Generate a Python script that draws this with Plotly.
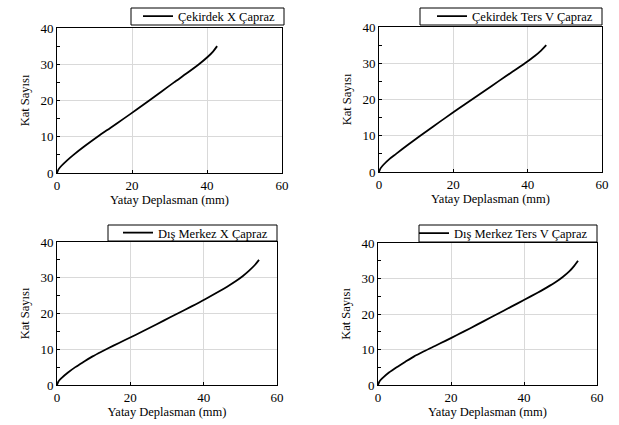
import plotly.graph_objects as go

W, H = 619, 425

names = ["Çekirdek X Çapraz", "Çekirdek Ters V Çapraz",
         "Dış Merkez X Çapraz", "Dış Merkez Ters V Çapraz"]

floors_c = [0, 1, 2, 3.5, 5, 7.5, 10, 12.5, 15, 17.5, 20, 22.5, 25, 27.5, 30, 32, 33.5, 35]
disp_cekirdek_x = [0, 0.4, 1.2, 2.7, 4.4, 7.5, 10.8, 14.3, 17.8, 21.25, 24.6, 27.9, 31.2, 34.6, 37.85, 40.15, 41.6, 42.7]
disp_cekirdek_v = [0, 0.4, 1.2, 2.7, 4.6, 7.8, 11.1, 14.5, 17.95, 21.45, 25.0, 28.55, 32.1, 35.7, 39.25, 41.9, 43.6, 45.0]

floors_d = [0, 1, 2, 3.5, 5, 6.5, 8, 9.5, 11, 12.5, 14, 16, 18, 20, 22, 24, 26, 27.5, 29, 30.5, 32, 33.5, 35]
disp_dis_x = [0, 0.4, 1.3, 3.0, 5.0, 7.3, 9.7, 12.5, 15.4, 18.4, 21.4, 25.3, 29.1, 32.9, 36.7, 40.4, 43.9, 46.4, 48.7, 50.7, 52.4, 53.9, 55.1]
disp_dis_v = [0, 0.4, 1.3, 3.0, 5.1, 7.4, 9.8, 12.6, 15.6, 18.6, 21.5, 25.3, 29.0, 32.7, 36.4, 40.1, 43.7, 46.3, 48.7, 50.7, 52.4, 53.7, 54.8]

series = [(disp_cekirdek_x, floors_c), (disp_cekirdek_v, floors_c),
          (disp_dis_x, floors_d), (disp_dis_v, floors_d)]

# plot areas in pixels: left, right, top, bottom
areas = [(57, 282, 28, 173), (379, 602, 27, 172), (57, 277, 242, 385), (378, 597, 243, 385)]
# legend boxes in pixels: left, right, top, bottom
boxes = [(131, 284, 8, 25), (420, 602, 8, 25), (108, 277, 225, 241), (419, 597, 225, 242)]

FONT = "Liberation Serif"

fig = go.Figure()
shapes = []
layout = dict(width=W, height=H, margin=dict(l=0, r=0, t=0, b=0, autoexpand=False),
              paper_bgcolor="white", plot_bgcolor="white",
              font=dict(family=FONT, size=13, color="black"), shapes=shapes)

for i, ((xs, ys), name, (l, r, t, b), (bl, br, bt, bb)) in enumerate(zip(series, names, areas, boxes)):
    k = "" if i == 0 else str(i + 1)
    lg = "legend" + k
    fig.add_trace(go.Scatter(x=xs, y=ys, mode="lines", name=name,
                             line=dict(color="black", width=1.8, shape="spline", smoothing=0.8),
                             xaxis="x" + k, yaxis="y" + k, legend=lg, showlegend=True))
    common = dict(showline=True, linecolor="black", linewidth=1, mirror=True,
                  showgrid=True, gridcolor="#d9d9d9", gridwidth=1, zeroline=False,
                  ticks="inside", ticklen=3, tickcolor="black", automargin=False,
                  tickfont=dict(family=FONT, size=13, color="black"))
    layout["xaxis" + k] = dict(common, domain=[l / W, r / W], range=[0, 60], dtick=20,
                               anchor="y" + k,
                               title=dict(text="Yatay Deplasman (mm)", standoff=0,
                                          font=dict(family=FONT, size=12.5)))
    layout["yaxis" + k] = dict(common, domain=[1 - b / H, 1 - t / H], range=[0, 40], dtick=10,
                               anchor="x" + k,
                               minor=dict(dtick=5, ticks="inside", ticklen=3, tickcolor="black",
                                          showgrid=False),
                               title=dict(text="Kat Sayısı", standoff=8,
                                          font=dict(family=FONT, size=12.5)))
    shapes.append(dict(type="rect", xref="paper", yref="paper",
                       x0=bl / W, x1=br / W, y0=1 - bb / H, y1=1 - bt / H,
                       line=dict(color="black", width=1), fillcolor="white", layer="below"))
    layout[lg] = dict(x=(br - 4) / W, xanchor="right", y=1 - (bt + bb) / 2 / H, yanchor="middle",
                      bgcolor="rgba(0,0,0,0)", borderwidth=0,
                      font=dict(family=FONT, size=12.5, color="black"),
                      itemwidth=30, tracegroupgap=0)

fig.update_layout(**layout)
fig.write_html("out.html", config={"displayModeBar": False},
               post_script="document.body.style.margin='0';document.body.style.overflow='hidden';")
